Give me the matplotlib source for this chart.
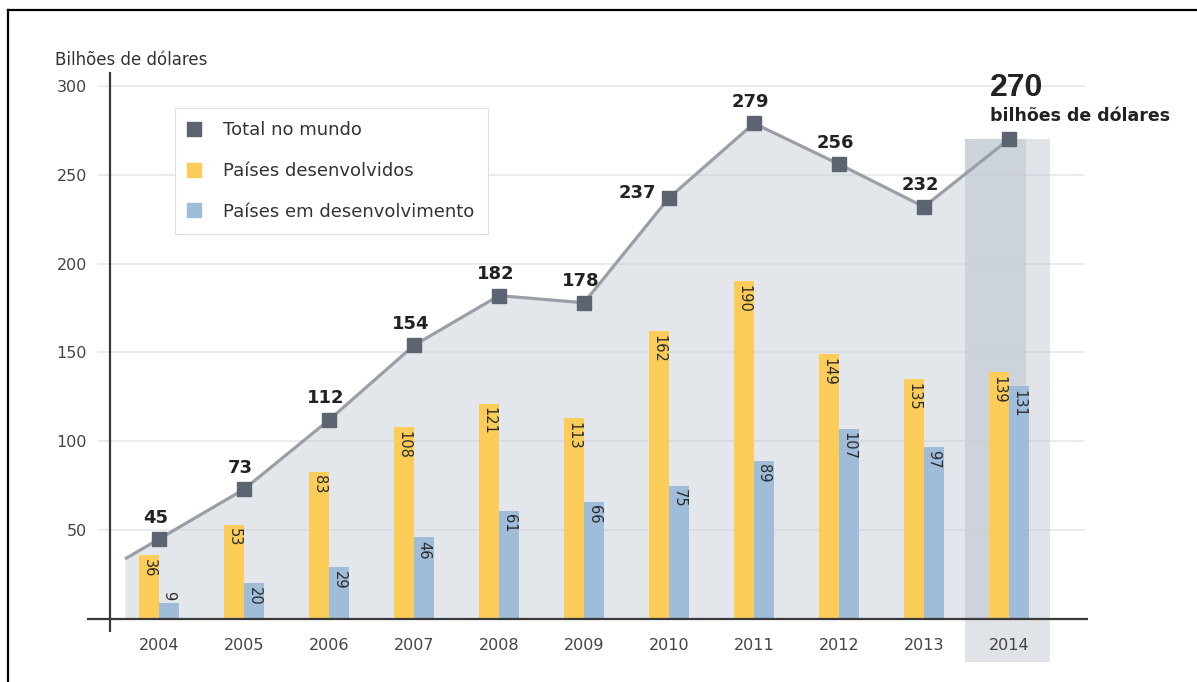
import matplotlib
matplotlib.use('Agg')
import matplotlib.pyplot as plt
from matplotlib.lines import Line2D
from matplotlib.patches import Rectangle
import numpy as np

plt.rcParams['font.family'] = ['DejaVu Sans']

years = [2004, 2005, 2006, 2007, 2008, 2009, 2010, 2011, 2012, 2013, 2014]
total = [45, 73, 112, 154, 182, 178, 237, 279, 256, 232, 270]
developed = [36, 53, 83, 108, 121, 113, 162, 190, 149, 135, 139]
developing = [9, 20, 29, 46, 61, 66, 75, 89, 107, 97, 131]
y_ticks = [50, 100, 150, 200, 250, 300]
unit_label = 'Bilhões de dólares'
legend_labels = ['Total no mundo', 'Países desenvolvidos', 'Países em desenvolvimento']

c_total = '#5c6371'
c_line = '#9a9fa7'
c_dev = '#fbcd58'
c_devg = '#9fbcd9'
c_area = '#e3e7ec'

x = np.array(years, dtype=float)

fig = plt.figure(figsize=(11.97, 6.82), dpi=100)
ax = fig.add_axes([87/1197, 50/682, 1001/1197, 560/682])
ax.set_xlim(2003.153, 2014.93)
ax.set_ylim(-7.32, 307.87)
for s in ax.spines.values():
    s.set_visible(False)

# highlighted last year column
ax.add_patch(Rectangle((2013.48, -24.2), 1.0, total[-1] + 24.2, color='#e0e4e9',
                       zorder=0.5, clip_on=False, lw=0))

# shaded area under the total line, extended a little on both ends
x0 = x[0] - 0.4
y0 = total[0] - (total[1] - total[0]) * 0.4
ax_x = np.concatenate([[x0], x, [x[-1] + 0.2]])
ax_y = np.concatenate([[y0], total, [total[-1]]])
ax.fill_between(ax_x, 0, ax_y, color=c_area, lw=0, zorder=1)
ax.add_patch(Rectangle((2013.48, 0), 0.72, total[-1], color='#cdd3da', lw=0, zorder=1.2))

# gridlines
ax.hlines(y_ticks, 2003.28, 2014.89, color='#c8ccd2', alpha=0.45, lw=1.2, zorder=2)

# axis lines
ax.axhline(0, color='#3a3a3a', lw=1.6, zorder=6)
ax.axvline(2003.424, color='#3a3a3a', lw=1.6, zorder=6)

ax.plot(ax_x[:-1], ax_y[:-1], color=c_line, lw=2.3, zorder=3, solid_capstyle='butt')
ax.plot(x, total, ls='none', marker='s', ms=9.5, color=c_total, zorder=4)

w = 0.235
ax.bar(x - 0.117, developed, w, color=c_dev, zorder=4)
ax.bar(x + 0.118, developing, w, color=c_devg, zorder=4)

lbl = dict(rotation=270, ha='center', fontsize=10.5, color='#2b2b2b', zorder=5,
           textcoords='offset points')
for xi, v in zip(x - 0.117, developed):
    ax.annotate(str(v), (xi, v), xytext=(0, -2.5), va='top', **lbl)
for xi, v in zip(x + 0.118, developing):
    if v < 15:
        ax.annotate(str(v), (xi, v), xytext=(0, 2), va='bottom', **lbl)
    else:
        ax.annotate(str(v), (xi, v), xytext=(0, -2.5), va='top', **lbl)

# total value labels
for xi, v, yr in zip(x, total, years):
    if yr == 2014:
        continue
    off = (-23, 3.5) if yr == 2010 else (-2.5, 15.5)
    ax.annotate(str(v), (xi, v), xytext=off, textcoords='offset points',
                ha='center', va='center', fontsize=13, fontweight='bold', color='#222222', zorder=5)
ax.annotate(str(total[-1]), (x[-1], total[-1]), xytext=(-13.5, 37), textcoords='offset points',
            ha='left', va='center', fontsize=23, fontweight='bold', color='#222222', zorder=5,
            family='Liberation Sans')
ax.annotate('bilhões de dólares', (x[-1], total[-1]), xytext=(-13.5, 16.5), textcoords='offset points',
            ha='left', va='center', fontsize=12.5, fontweight='bold', color='#222222', zorder=5)

ax.set_yticks(y_ticks)
ax.set_yticklabels([str(t) for t in y_ticks], fontsize=11.5, color='#444444')
ax.set_xticks(years)
ax.set_xticklabels([str(y) for y in years], fontsize=11.5, color='#444444')
ax.tick_params(axis='both', length=0)
ax.tick_params(axis='y', pad=0)
ax.tick_params(axis='x', pad=4)

fig.text(55/1197, 1 - 60/682, unit_label, fontsize=12, color='#333333', va='center', ha='left')

handles = [Line2D([], [], ls='none', marker='s', ms=10, color=c) for c in (c_total, c_dev, c_devg)]
leg = ax.legend(handles, legend_labels, loc='upper left', bbox_to_anchor=(0.0879, 0.936),
                frameon=True, fancybox=False, framealpha=1, edgecolor='#e0e0e0',
                fontsize=13, labelspacing=1.25, handlelength=0.6, handletextpad=1.3,
                borderpad=0.75, borderaxespad=0)
leg.get_frame().set_linewidth(0.8)
leg.set_zorder(7)
for t in leg.get_texts():
    t.set_color('#333333')

# outer frame
fig.add_artist(Line2D([8/1197, 8/1197], [0, 1 - 10/682], transform=fig.transFigure, color='black', lw=1.6))
fig.add_artist(Line2D([8/1197, 1], [1 - 10/682, 1 - 10/682], transform=fig.transFigure, color='black', lw=1.6))

fig.savefig('out.png', dpi=100)
